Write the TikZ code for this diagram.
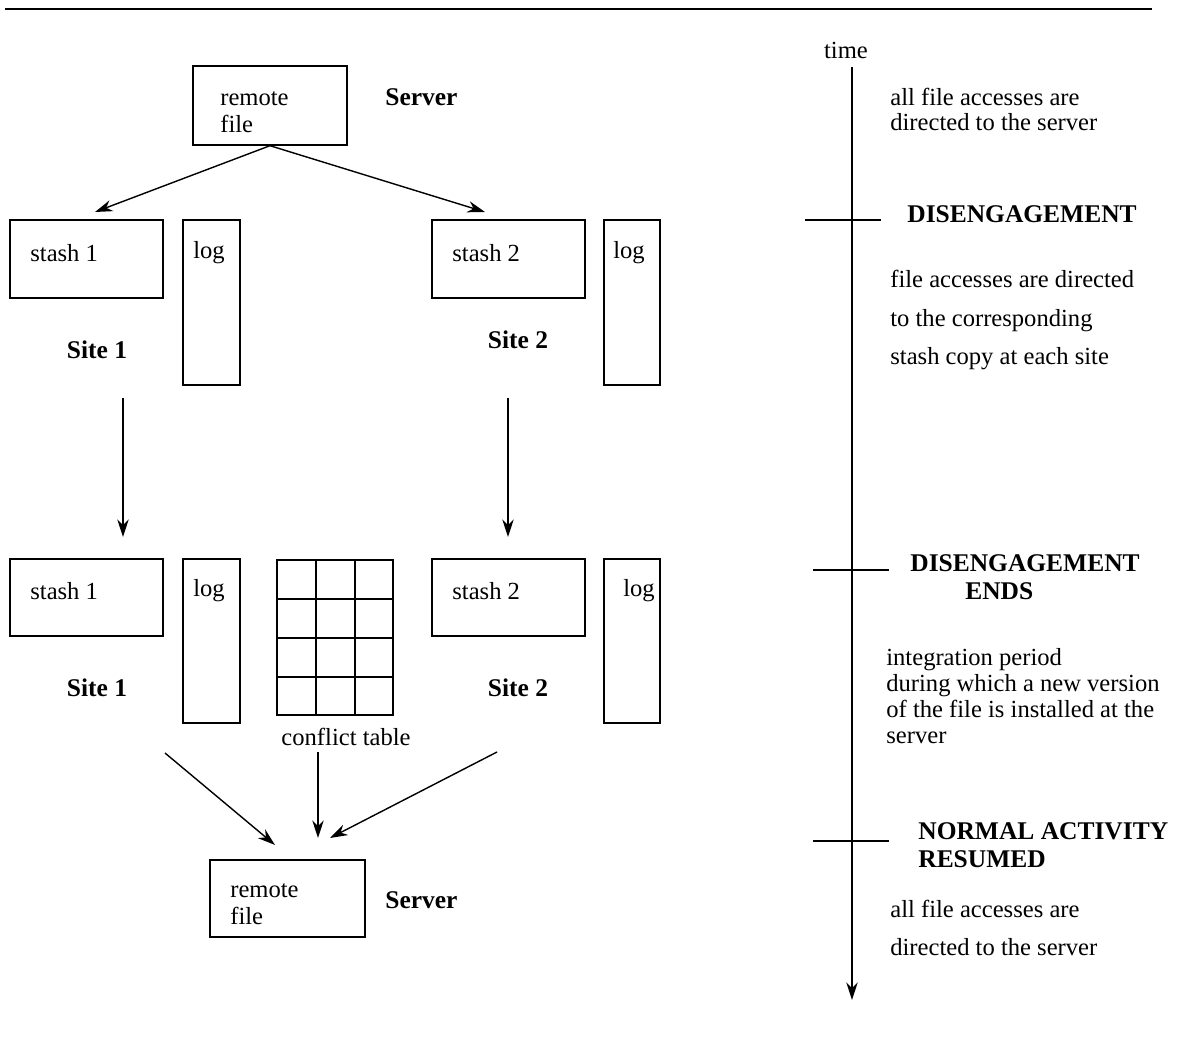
\documentclass[tikz,border=0pt]{standalone}
\usepackage{fontspec}
\setmainfont{Liberation Serif}
\usetikzlibrary{arrows.meta}

\tikzset{
  box/.style 2 args={draw, line width=0.8pt, minimum width=#1*0.02cm, minimum height=#2*0.02cm}
}

\begin{document}
\begin{tikzpicture}[
  x=0.02cm, y=-0.02cm,
  every node/.style={font=\fontsize{14}{15}\selectfont, inner sep=0pt},
  lbl/.style={anchor=west, align=left},
  hd/.style={font=\fontsize{14.5}{16}\selectfont\bfseries},
  note/.style={anchor=north west, align=left},
  flow/.style={draw, ->, >={Stealth[length=10pt,width=6.5pt]}, line width=0.8pt}
]
\useasboundingbox (0,0) rectangle (1180,1057);
\draw[line width=1pt] (5,9) -- (1152,9);

% server, before disengagement
\node[box={154}{79}] (srvA) at (270,105.5) {};
\node[lbl, font=\fontsize{14}{15.5}\selectfont] (srvAtxt) at (220,112) {remote\\file};
\node[hd, anchor=west] (srvAlbl) at (385,97) {Server};

% sites, during disengagement
\node[box={153}{78}] (stashA) at (86.5,259) {};
\node[lbl] (stashAtxt) at (30,253) {stash 1};
\node[box={57}{165}] (logA) at (211.5,302.5) {};
\node[lbl] (logAtxt) at (193,253) {log};
\node[hd] (siteA) at (97,350) {Site 1};

\node[box={153}{78}] (stashB) at (508.5,259) {};
\node[lbl] (stashBtxt) at (452,253) {stash 2};
\node[box={56}{165}] (logB) at (632,302.5) {};
\node[lbl] (logBtxt) at (613,253) {log};
\node[hd] (siteB) at (518,340) {Site 2};

\coordinate (endA) at (95,212);
\coordinate (endB) at (485,212);
\draw[flow] (srvA.south) -- (endA);
\draw[flow] (srvA.south) -- (endB);

\coordinate (dnA0) at (123,398);
\coordinate (dnA1) at (123,537);
\coordinate (dnB0) at (508,398);
\coordinate (dnB1) at (508,537);
\draw[flow] (dnA0) -- (dnA1);
\draw[flow] (dnB0) -- (dnB1);

% sites, at the end of disengagement
\node[box={153}{77}] (stashC) at (86.5,597.5) {};
\node[lbl] (stashCtxt) at (30,591) {stash 1};
\node[box={57}{164}] (logC) at (211.5,641) {};
\node[lbl] (logCtxt) at (193,591) {log};
\node[hd] (siteC) at (97,688) {Site 1};

\node[box={153}{77}] (stashD) at (508.5,597.5) {};
\node[lbl] (stashDtxt) at (452,591) {stash 2};
\node[box={56}{164}] (logD) at (632,641) {};
\node[lbl] (logDtxt) at (623,591) {log};
\node[hd] (siteD) at (518,688) {Site 2};

% conflict table
\node[box={116}{155}] (tbl) at (335,637.5) {};
\foreach \x in {316,355}
  \draw[line width=0.8pt] (\x,560) -- (\x,715);
\foreach \y in {599,638,677}
  \draw[line width=0.8pt] (277,\y) -- (393,\y);
\node (tbltxt) at (346,737) {conflict table};

% server, after integration
\node[box={155}{77}] (srvB) at (287.5,898.5) {};
\node[lbl, font=\fontsize{14}{15.5}\selectfont] (srvBtxt) at (230,904) {remote\\file};
\node[hd, anchor=west] (srvBlbl) at (385,900) {Server};

\coordinate (inA0) at (165,753);
\coordinate (inA1) at (275,845);
\coordinate (inT0) at (318,752);
\coordinate (inT1) at (318,838);
\coordinate (inB0) at (497,752);
\coordinate (inB1) at (330,838);
\draw[flow] (inA0) -- (inA1);
\draw[flow] (inT0) -- (inT1);
\draw[flow] (inB0) -- (inB1);

% time axis
\node (time) at (846,50) {time};
\coordinate (t0) at (852,67);
\coordinate (t1) at (852,1000);
\draw[flow] (t0) -- (t1);
\coordinate (k1a) at (805,220);
\coordinate (k1b) at (881,220);
\coordinate (k2a) at (813,570);
\coordinate (k2b) at (889,570);
\coordinate (k3a) at (813,841);
\coordinate (k3b) at (889,841);
\draw[line width=0.8pt] (k1a) -- (k1b);
\draw[line width=0.8pt] (k2a) -- (k2b);
\draw[line width=0.8pt] (k3a) -- (k3b);

\node[note, font=\fontsize{14}{14.2}\selectfont] (n1) at (890,88)
  {all file accesses are\\directed to the server};
\node[hd, anchor=west] (d1) at (907,214) {DISENGAGEMENT};
\node[note, font=\fontsize{14}{22}\selectfont] (n2) at (890,270)
  {file accesses are directed\\to the corresponding\\stash copy at each site};
\node[hd, align=left, anchor=west] (d2) at (910,577) {DISENGAGEMENT\\\hspace*{1.1cm}ENDS};
\node[note, font=\fontsize{14}{14.8}\selectfont] (n3) at (886,648)
  {integration period\\during which a new version\\of the file is installed at the\\server};
\node[hd, align=left, anchor=north west] (d3) at (918,822) {NORMAL ACTIVITY\\RESUMED};
\node[note, font=\fontsize{14}{21.6}\selectfont] (n4) at (890,900)
  {all file accesses are\\directed to the server};
\end{tikzpicture}
\end{document}
